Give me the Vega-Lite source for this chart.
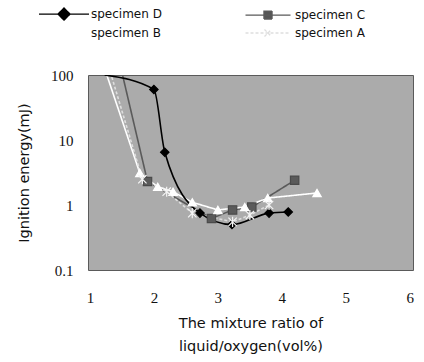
{
  "$schema": "https://vega.github.io/schema/vega-lite/v6.json",
  "autosize": "none",
  "width": 325,
  "height": 195,
  "padding": {"left": 88, "top": 75, "right": 11, "bottom": 92},
  "background": "white",
  "config": {
    "view": {"fill": "#ababab", "stroke": "#5a5a5a", "strokeWidth": 1},
    "axis": {"grid": false, "ticks": false, "domain": false, "labelColor": "#111", "titleColor": "#111", "titleFontWeight": "normal"}
  },
  "data": {
    "values": [
      {"s": "specimen D", "x": 1.23, "y": 100},
      {"s": "specimen D", "x": 2.0, "y": 60},
      {"s": "specimen D", "x": 2.17, "y": 6.5},
      {"s": "specimen D", "x": 2.72, "y": 0.75},
      {"s": "specimen D", "x": 3.22, "y": 0.5},
      {"s": "specimen D", "x": 3.8, "y": 0.75},
      {"s": "specimen D", "x": 4.1, "y": 0.78},
      {"s": "specimen C", "x": 1.5, "y": 110},
      {"s": "specimen C", "x": 1.9, "y": 2.3},
      {"s": "specimen C", "x": 2.9, "y": 0.62},
      {"s": "specimen C", "x": 3.23, "y": 0.84},
      {"s": "specimen C", "x": 3.53, "y": 0.93},
      {"s": "specimen C", "x": 4.2, "y": 2.4},
      {"s": "specimen B", "x": 1.25, "y": 110},
      {"s": "specimen B", "x": 1.78, "y": 3.1},
      {"s": "specimen B", "x": 2.06, "y": 1.9},
      {"s": "specimen B", "x": 2.3, "y": 1.6},
      {"s": "specimen B", "x": 2.6, "y": 1.1},
      {"s": "specimen B", "x": 3.0, "y": 0.84},
      {"s": "specimen B", "x": 3.42, "y": 0.93},
      {"s": "specimen B", "x": 3.78, "y": 1.28},
      {"s": "specimen B", "x": 4.55, "y": 1.53},
      {"s": "specimen A", "x": 1.32, "y": 110},
      {"s": "specimen A", "x": 1.82, "y": 2.5},
      {"s": "specimen A", "x": 2.2, "y": 1.6},
      {"s": "specimen A", "x": 2.6, "y": 0.75},
      {"s": "specimen A", "x": 3.23, "y": 0.55},
      {"s": "specimen A", "x": 3.5, "y": 0.7},
      {"s": "specimen A", "x": 3.8, "y": 1.0}
    ]
  },
  "encoding": {
    "x": {
      "field": "x", "type": "quantitative",
      "scale": {"domain": [0.97, 6.05], "nice": false, "zero": false},
      "axis": {
        "values": [1, 2, 3, 4, 5, 6],
        "labelFont": "Liberation Serif", "labelFontSize": 15, "labelPadding": 20,
        "title": ["The mixture ratio of", "liquid/oxygen(vol%)"],
        "titleFont": "DejaVu Sans", "titleFontSize": 14.5, "titleLineHeight": 23, "titlePadding": 11
      }
    },
    "y": {
      "field": "y", "type": "quantitative",
      "scale": {"type": "log", "domain": [0.1, 100], "nice": false},
      "axis": {
        "values": [0.1, 1, 10, 100],
        "labelExpr": "toString(datum.value)",
        "labelFont": "Liberation Serif", "labelFontSize": 15, "labelPadding": 15,
        "title": "Ignition energy(mJ)",
        "titleFont": "DejaVu Sans", "titleFontSize": 14.5, "titlePadding": 19
      }
    }
  },
  "resolve": {"legend": {"color": "independent", "shape": "independent", "stroke": "independent", "strokeDash": "independent"}},
  "layer": [
    {
      "transform": [{"filter": "datum.s !== 'specimen D'"}],
      "mark": {"type": "line", "clip": true, "strokeWidth": 1.6},
      "encoding": {
        "color": {
          "field": "s", "type": "nominal",
          "scale": {"domain": ["specimen D", "specimen C", "specimen B", "specimen A"], "range": ["#000000", "#5a5a5a", "#ffffff", "#dedede"]},
          "legend": {
            "orient": "none", "legendX": -30, "legendY": -67, "direction": "horizontal",
            "columns": 2, "title": null, "symbolSize": 100,
            "labelOffset": 21, "columnPadding": 80, "rowPadding": 3,
            "labelFont": "DejaVu Sans", "labelFontSize": 12, "labelColor": "#111",
            "encode": {
              "symbols": {
                "update": {
                  "shape": {"signal": "datum.value==='specimen D' ? 'M-5,0L5,0M0,-1.2L1.2,0L0,1.2L-1.2,0Z' : datum.value==='specimen C' ? 'M-4.5,0L4.5,0M-0.8,-0.8L0.8,-0.8L0.8,0.8L-0.8,0.8Z' : datum.value==='specimen A' ? 'M-4.5,0L4.5,0M-0.7,-0.7L0.7,0.7M-0.7,0.7L0.7,-0.7' : 'M-5,0L5,0'"},
                  "fill": {"signal": "datum.value==='specimen D' ? '#000' : datum.value==='specimen C' ? '#555' : datum.value==='specimen A' ? 'transparent' : '#fff'"},
                  "stroke": {"signal": "datum.value==='specimen D' ? '#000' : datum.value==='specimen C' ? '#666' : datum.value==='specimen A' ? '#c8c8c8' : '#fff'"},
                  "strokeWidth": {"value": 1.4},
                  "size": {"value": 100},
                  "opacity": {"value": 1}
                }
              }
            }
          }
        },
        "strokeDash": {
          "field": "s", "type": "nominal",
          "scale": {"domain": ["specimen D", "specimen C", "specimen B", "specimen A"], "range": [[1, 0], [1, 0], [1, 0], [3, 2]]},
          "legend": null
        }
      }
    },
    {
      "transform": [{"filter": "datum.s === 'specimen D'"}],
      "mark": {"type": "line", "clip": true, "interpolate": "monotone", "strokeWidth": 1.6},
      "encoding": {
        "color": {"field": "s", "type": "nominal", "legend": null}
      }
    },
    {
      "transform": [{"filter": "datum.y < 100"}],
      "mark": {"type": "point", "filled": true, "clip": true, "size": 70, "strokeWidth": 1.2, "opacity": 1},
      "encoding": {
        "shape": {
          "field": "s", "type": "nominal",
          "scale": {"domain": ["specimen D", "specimen C", "specimen B", "specimen A"], "range": ["diamond", "square", "triangle-up", "M-1,-1L1,1M-1,1L1,-1M0,-1.2L0,1.2"]},
          "legend": null
        },
        "stroke": {
          "field": "s", "type": "nominal",
          "scale": {"domain": ["specimen D", "specimen C", "specimen B", "specimen A"], "range": ["#000000", "#4a4a4a", "#ffffff", "#f4f4f4"]},
          "legend": null
        },
        "color": {"field": "s", "type": "nominal", "legend": null}
      }
    }
  ]
}
